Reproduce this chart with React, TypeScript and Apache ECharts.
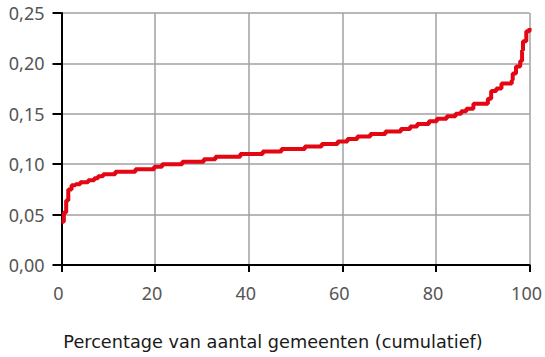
import React, { useEffect, useRef } from "react";
import * as echarts from "echarts";

// Step curve: [x start of level (% gemeenten), value]
const xValues = [
  0, 0.5, 1.0, 1.45, 2.15, 3.0, 4.0, 5.7, 7.0, 7.8, 8.9, 11.5, 15.8, 19.8, 21.5, 25.8,
  30.4, 32.9, 38.2, 43.0, 47.0, 52.0, 55.6, 59.0, 61.1, 63.2, 66.0, 69.2, 72.5, 74.5,
  76.0, 78.5, 80.2, 82.3, 84.2, 85.4, 86.5, 88.0, 91.1, 91.8, 92.9, 94.0, 96.2, 96.4,
  97.1, 98.0, 98.4, 98.6, 99.3, 100,
];
const yValues = [
  0.043, 0.052, 0.064, 0.075, 0.079, 0.080, 0.082, 0.084, 0.086, 0.088, 0.090, 0.0925,
  0.095, 0.0975, 0.1, 0.1025, 0.105, 0.1075, 0.11, 0.1125, 0.115, 0.1175, 0.12, 0.1225,
  0.125, 0.1275, 0.13, 0.1325, 0.135, 0.1375, 0.14, 0.1425, 0.145, 0.1475, 0.15, 0.1525,
  0.155, 0.16, 0.165, 0.1725, 0.175, 0.18, 0.1835, 0.19, 0.197, 0.2025, 0.213, 0.222,
  0.232, 0.235,
];
const xTicks = [0, 20, 40, 60, 80, 100];
const yTicks = [0, 0.05, 0.1, 0.15, 0.2, 0.25];
const xTitle = "Percentage van aantal gemeenten (cumulatief)";

const FONT = "'Noto Sans', sans-serif";

export default function App() {
  const ref = useRef<HTMLDivElement>(null);
  useEffect(() => {
    if (!ref.current) return;
    const chart = echarts.init(ref.current, undefined, { renderer: "svg" });
    const data = xValues.map((x, i) => [x, yValues[i]]);
    chart.setOption({
      animation: false,
      grid: { left: 61.5, right: 11.5, top: 13, bottom: 92, containLabel: false },
      xAxis: {
        type: "value",
        min: xTicks[0],
        max: xTicks[xTicks.length - 1],
        interval: 20,
        axisLine: { show: true, onZero: false, lineStyle: { color: "#000", width: 2 } },
        axisTick: { show: true, length: 7, lineStyle: { color: "#000", width: 2 } },
        axisLabel: {
          fontSize: 18,
          color: "#555",
          fontFamily: FONT,
          margin: 19,
          padding: [0, 6, 0, 0],
        },
        splitLine: { show: true, lineStyle: { color: "#a0a0a0", width: 1.5 } },
      },
      yAxis: {
        type: "value",
        min: yTicks[0],
        max: yTicks[yTicks.length - 1],
        interval: 0.05,
        axisLine: { show: true, lineStyle: { color: "#000", width: 2 } },
        axisTick: { show: true, length: 9, lineStyle: { color: "#000", width: 2 } },
        axisLabel: {
          fontSize: 18,
          color: "#555",
          fontFamily: FONT,
          margin: 17,
          formatter: (v: number) => v.toFixed(2).replace(".", ","),
        },
        splitLine: { show: true, lineStyle: { color: "#a0a0a0", width: 1.5 } },
      },
      graphic: [
        {
          type: "text",
          x: 273,
          y: 342,
          style: {
            text: xTitle,
            fontSize: 17.7,
            fontFamily: "'DejaVu Sans', sans-serif",
            fill: "#1a1a1a",
            textAlign: "center",
            textVerticalAlign: "middle",
          },
        },
      ],
      series: [
        {
          type: "line",
          data,
          step: "end",
          showSymbol: false,
          lineStyle: { color: "#e30613", width: 4 },
        },
      ],
    });
    return () => chart.dispose();
  }, []);
  return <div ref={ref} style={{ width: 545, height: 357, position: "absolute", left: 0, top: 0 }} />;
}
